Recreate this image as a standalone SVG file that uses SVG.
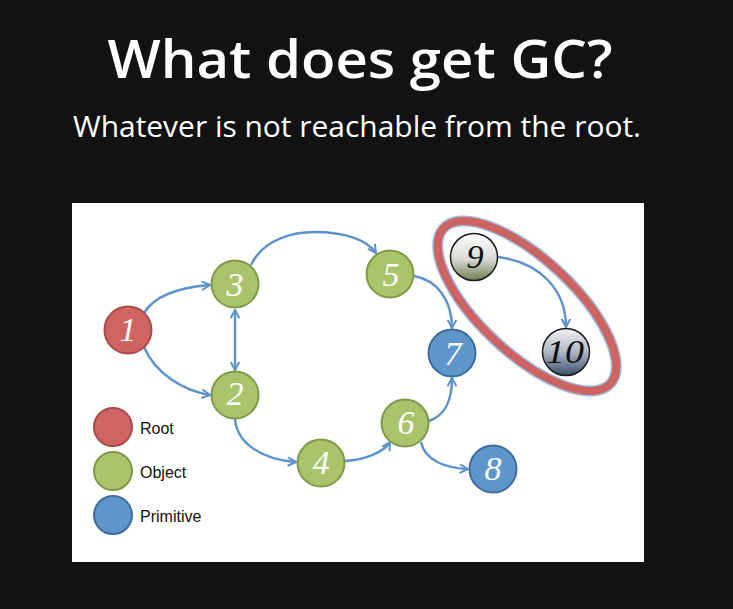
<svg xmlns="http://www.w3.org/2000/svg" width="733" height="609" viewBox="0 0 733 609">
  <style>
    .title { font-family: "Open Sans", "DejaVu Sans", sans-serif; font-weight: 600; fill: #ffffff; }
    .sub { font-family: "Open Sans", "DejaVu Sans", sans-serif; font-weight: 400; fill: #ffffff; }
    .num { font-family: "Liberation Serif", "DejaVu Serif", serif; font-style: italic; font-size: 34px; text-anchor: middle; }
    .numw { fill: #ffffff; }
    .numb { fill: #111111; }
    .root { fill: #cf6562; stroke: #a94c49; stroke-width: 2; }
    .obj { fill: #aac46c; stroke: #7f9a48; stroke-width: 2; }
    .prim { fill: #5e95ca; stroke: #3f6e9c; stroke-width: 2; }
    .edge { fill: none; stroke: #5d92cc; stroke-width: 2.5; marker-end: url(#arr); }
    .legend { font-family: "Liberation Sans", Arial, sans-serif; font-size: 16px; fill: #111111; }
  </style>
  <defs>
    <marker id="arr" viewBox="0 0 10 10" refX="8.5" refY="5" markerWidth="4" markerHeight="4" markerUnits="strokeWidth" orient="auto-start-reverse">
      <path d="M1,1 L8.5,5 L1,9" fill="none" stroke="#5d92cc" stroke-width="2" stroke-linecap="round" stroke-linejoin="round"/>
    </marker>
    <linearGradient id="g9" x1="0" y1="0" x2="0" y2="1">
      <stop offset="0" stop-color="#ffffff"/>
      <stop offset="0.55" stop-color="#d9d9d6"/>
      <stop offset="1" stop-color="#6f7f52"/>
    </linearGradient>
    <linearGradient id="g10" x1="0" y1="0" x2="0" y2="1">
      <stop offset="0" stop-color="#f2f3f5"/>
      <stop offset="0.5" stop-color="#aeb7c4"/>
      <stop offset="1" stop-color="#3b4e6c"/>
    </linearGradient>
  </defs>

  <!-- slide background -->
  <rect x="0" y="0" width="733" height="609" fill="#121212"/>

  <!-- heading -->
  <text class="title" x="360" y="78" font-size="52" text-anchor="middle" textLength="505" lengthAdjust="spacingAndGlyphs">What does get GC?</text>
  <text class="sub" x="357" y="137" font-size="29" text-anchor="middle" textLength="568" lengthAdjust="spacingAndGlyphs">Whatever is not reachable from the root.</text>

  <!-- diagram panel -->
  <rect x="72" y="203" width="572" height="359" fill="#ffffff"/>

  <!-- unreachable group marker -->
  <g id="unreachable-ring">
    <ellipse cx="527" cy="306" rx="114" ry="47" transform="rotate(43 527 306)" fill="none" stroke="#9dbbe0" stroke-width="11"/>
    <ellipse cx="527" cy="306" rx="114" ry="47" transform="rotate(43 527 306)" fill="none" stroke="#cd6461" stroke-width="8"/>
  </g>

  <!-- references -->
  <g id="connectors">
    <path class="edge" d="M144,313 C156,293 185,287 210,285"/>
    <path class="edge" d="M144,347 C156,375 185,391 210,395"/>
    <path class="edge" d="M235,310 L235,370" style="marker-start: url(#arr)"/>
    <path class="edge" d="M251,265 C264,238 295,232 315,232 C345,232 367,240 376,253"/>
    <path class="edge" d="M414,276 C437,280 452,300 452,328"/>
    <path class="edge" d="M429,421 C446,415 452,400 452,378"/>
    <path class="edge" d="M235,419 C237,445 265,460 296,462"/>
    <path class="edge" d="M345,461 C365,460 384,452 390,442"/>
    <path class="edge" d="M421,442 C425,461 446,468 468,469"/>
    <path class="edge" d="M498,257 C540,262 566,290 566,327"/>
  </g>

  <!-- objects -->
  <g id="node-1">
    <circle class="root" cx="128" cy="330" r="23.5"/>
    <text class="num numw" x="128" y="341">1</text>
  </g>
  <g id="node-3">
    <circle class="obj" cx="235" cy="284" r="23.5"/>
    <text class="num numw" x="235" y="296">3</text>
  </g>
  <g id="node-2">
    <circle class="obj" cx="235" cy="395" r="23.5"/>
    <text class="num numw" x="235" y="405">2</text>
  </g>
  <g id="node-4">
    <circle class="obj" cx="321" cy="463" r="23.5"/>
    <text class="num numw" x="321" y="474">4</text>
  </g>
  <g id="node-5">
    <circle class="obj" cx="390" cy="274" r="23.5"/>
    <text class="num numw" x="391" y="286">5</text>
  </g>
  <g id="node-6">
    <circle class="obj" cx="405" cy="423" r="23.5"/>
    <text class="num numw" x="406" y="434">6</text>
  </g>
  <g id="node-7">
    <circle class="prim" cx="452" cy="353" r="23.5"/>
    <text class="num numw" x="453" y="365">7</text>
  </g>
  <g id="node-8">
    <circle class="prim" cx="493" cy="469" r="23.5"/>
    <text class="num numw" x="493" y="480">8</text>
  </g>
  <g id="node-9">
    <circle cx="474" cy="257" r="23.5" fill="url(#g9)" stroke="#1a1a1a" stroke-width="1.5"/>
    <text class="num numb" x="475" y="268">9</text>
  </g>
  <g id="node-10">
    <circle cx="566" cy="352" r="23.5" fill="url(#g10)" stroke="#1a1a1a" stroke-width="1.5"/>
    <text class="num numb" x="565" y="363" textLength="38" lengthAdjust="spacingAndGlyphs">10</text>
  </g>

  <!-- legend -->
  <g id="legend">
    <circle class="root" cx="113" cy="427" r="19"/>
    <text class="legend" x="140" y="434">Root</text>
    <circle class="obj" cx="113" cy="471" r="19"/>
    <text class="legend" x="140" y="478">Object</text>
    <circle class="prim" cx="113" cy="515" r="19"/>
    <text class="legend" x="140" y="522">Primitive</text>
  </g>
</svg>
